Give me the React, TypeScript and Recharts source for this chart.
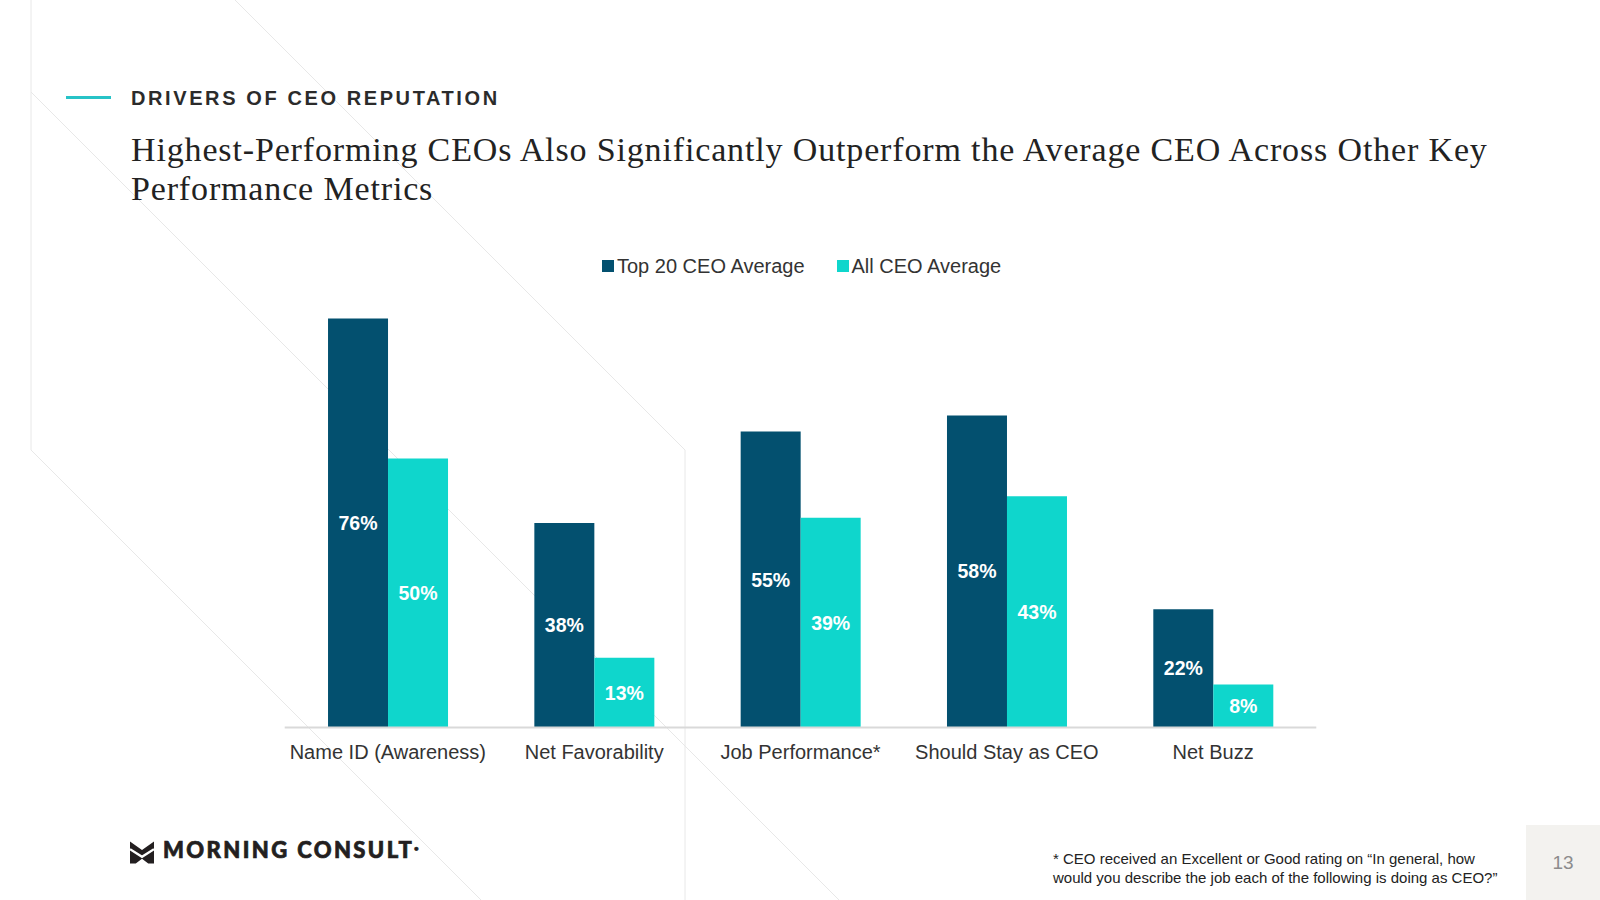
import React from 'react';
import { BarChart, Bar, XAxis, YAxis, LabelList } from 'recharts';

const categories = ['Name ID (Awareness)', 'Net Favorability', 'Job Performance*', 'Should Stay as CEO', 'Net Buzz'];
const top20Values = [76, 38, 55, 58, 22];
const allCeoValues = [50, 13, 39, 43, 8];
const seriesNames = ['Top 20 CEO Average', 'All CEO Average'];
const seriesColors = ['#03506F', '#0FD6CC'];
const yTicks = [0, 80];

const data = categories.map((name, i) => ({
  name,
  top20: top20Values[i],
  allCeo: allCeoValues[i],
}));

const sans = '"Liberation Sans", Arial, sans-serif';

const App: React.FC = () => {
  return (
    <div
      style={{
        position: 'absolute',
        left: 0,
        top: 0,
        width: 1600,
        height: 900,
        overflow: 'hidden',
        background: '#ffffff',
        fontFamily: sans,
      }}
    >
      {/* faint background decoration */}
      <svg width={1600} height={900} style={{ position: 'absolute', left: 0, top: 0 }}>
        <polyline points="31,0 31,450 481,900" fill="none" stroke="#e8e8e8" strokeWidth={1} />
        <line x1={31} y1={92} x2={839} y2={900} stroke="#e8e8e8" strokeWidth={1} />
        <polyline points="235,0 685,450 685,900" fill="none" stroke="#e8e8e8" strokeWidth={1} />
        <rect x={1526} y={825} width={74} height={75} fill="#f3f2ef" />
      </svg>

      <div style={{ position: 'absolute', left: 66, top: 96, width: 45, height: 3, background: '#27C3C7' }} />
      <div
        style={{
          position: 'absolute',
          left: 131,
          top: 88,
          fontSize: 20,
          lineHeight: '20px',
          fontWeight: 700,
          letterSpacing: 2.6,
          color: '#2b2b2b',
          whiteSpace: 'nowrap',
        }}
      >
        DRIVERS OF CEO REPUTATION
      </div>
      <div
        style={{
          position: 'absolute',
          left: 131,
          top: 129.5,
          fontFamily: '"Liberation Serif", "Times New Roman", serif',
          fontSize: 34,
          lineHeight: '39.5px',
          letterSpacing: 0.85,
          color: '#222222',
          whiteSpace: 'nowrap',
        }}
      >
        Highest-Performing CEOs Also Significantly Outperform the Average CEO Across Other Key
        <br />
        Performance Metrics
      </div>

      {/* legend */}
      <div style={{ position: 'absolute', left: 602, top: 254, height: 24, display: 'flex', alignItems: 'center' }}>
        {seriesNames.map((n, i) => (
          <div key={n} style={{ display: 'flex', alignItems: 'center', marginRight: i === 0 ? 32 : 0 }}>
            <div style={{ width: 12, height: 12, background: seriesColors[i], marginRight: 3 }} />
            <span style={{ fontSize: 20, color: '#333333', whiteSpace: 'nowrap' }}>{n}</span>
          </div>
        ))}
      </div>

      <div style={{ position: 'absolute', left: 0, top: 0 }}>
        <BarChart
          width={1600}
          height={900}
          data={data}
          margin={{ top: 297, right: 283.7, bottom: 132.4, left: 284.7 }}
          barCategoryGap="21%"
          barGap={0}
        >
          <XAxis
            dataKey="name"
            height={40}
            axisLine={{ stroke: '#d9d9d9', strokeWidth: 2 }}
            tickLine={false}
            tickMargin={11}
            interval={0}
            tick={{ fontSize: 20, fill: '#333333', fontFamily: sans }}
          />
          <YAxis hide domain={[yTicks[0], yTicks[1]]} />
          <Bar dataKey="top20" name={seriesNames[0]} fill={seriesColors[0]} isAnimationActive={false}>
            <LabelList
              dataKey="top20"
              position="center"
              formatter={(v: number) => `${v}%`}
              style={{ fill: '#ffffff', fontSize: 19.5, fontWeight: 700, fontFamily: sans }}
            />
          </Bar>
          <Bar dataKey="allCeo" name={seriesNames[1]} fill={seriesColors[1]} isAnimationActive={false}>
            <LabelList
              dataKey="allCeo"
              position="center"
              formatter={(v: number) => `${v}%`}
              style={{ fill: '#ffffff', fontSize: 19.5, fontWeight: 700, fontFamily: sans }}
            />
          </Bar>
        </BarChart>
      </div>

      {/* logo */}
      <svg width={24} height={23} style={{ position: 'absolute', left: 130, top: 841 }} viewBox="0 0 25 23">
        <polygon points="0,0 12.5,9 25,0 25,23 19,23 12.5,18 6,23 0,23" fill="#231f20" />
        <polyline points="0,8 12.5,16 25,8" fill="none" stroke="#ffffff" strokeWidth={2.5} />
      </svg>
      <div
        style={{
          position: 'absolute',
          left: 163,
          top: 839,
          fontFamily: 'Lato, "Open Sans", sans-serif',
          fontWeight: 900,
          fontSize: 22,
          lineHeight: '22px',
          letterSpacing: 2.4,
          color: '#231f20',
          WebkitTextStroke: '0.7px #231f20',
          whiteSpace: 'nowrap',
        }}
      >
        MORNING CONSULT
        <span style={{ fontSize: 7, verticalAlign: 'top', letterSpacing: 0, position: 'relative', top: -2 }}>●</span>
      </div>

      {/* footnote */}
      <div
        style={{
          position: 'absolute',
          left: 1053,
          top: 849,
          fontSize: 15,
          lineHeight: '19px',
          color: '#222222',
          whiteSpace: 'nowrap',
        }}
      >
        * CEO received an Excellent or Good rating on “In general, how
        <br />
        would you describe the job each of the following is doing as CEO?”
      </div>

      <div
        style={{
          position: 'absolute',
          left: 1526,
          top: 852,
          width: 74,
          textAlign: 'center',
          fontSize: 19,
          lineHeight: '22px',
          color: '#8c8c8c',
        }}
      >
        13
      </div>
    </div>
  );
};

export default App;
